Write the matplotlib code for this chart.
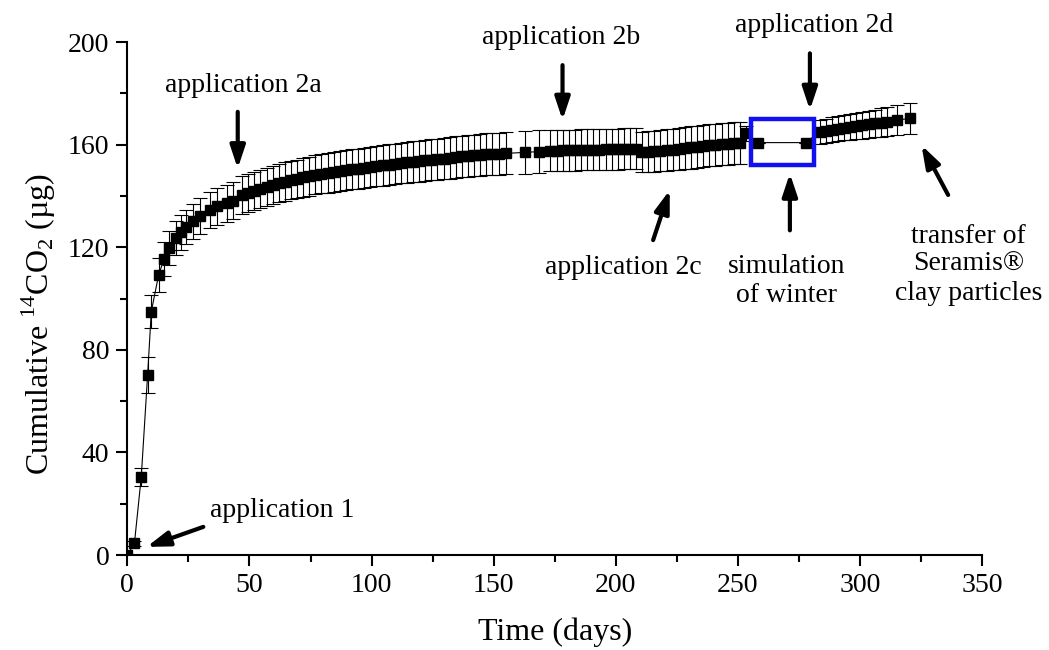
import numpy as np
import matplotlib.pyplot as plt
from matplotlib.patches import Rectangle

# sampling days and cumulative 14CO2 (ug) with standard deviation
days = [0, 2.9, 5.7, 8.3, 9.8, 12.8, 15.0, 16.9, 19.9, 21.9, 23.9, 26.9, 29.9, 33.7, 36.6, 40.7, 43.3, 47.0,
        49.5, 52.0, 54.5, 57.0, 59.5, 62.0, 64.5, 67.0, 69.5, 72.0, 74.5, 77.0, 79.5, 82.0, 84.5, 87.0,
        89.5, 92.0, 94.5, 97.0, 99.5, 102.0, 104.5, 107.0, 109.5, 112.0, 114.5, 117.0, 119.5, 122.0,
        124.5, 127.0, 129.5, 132.0, 134.5, 137.0, 139.5, 142.0, 144.5, 147.0, 149.5, 152.0, 155.0,
        163.0, 168.6, 173.2, 175.8, 178.3, 180.8, 183.3, 185.8, 188.3, 190.8, 193.3, 195.8, 198.3,
        200.8, 203.3, 205.8, 208.3, 210.8, 213.3, 215.8, 218.3, 220.8, 223.3, 225.8, 228.3, 230.8,
        233.3, 235.8, 238.3, 240.8, 243.3, 245.8, 248.3, 250.8, 253.5,
        258.4, 277.7,
        283.6, 286.0, 288.5, 291.0, 293.5, 296.0, 298.5, 301.0, 303.5, 306.0, 308.5, 311.0, 315.0, 320.5]

co2_cum = [0, 4.6, 30.5, 70.2, 94.9, 109.2, 115.4, 119.7, 123.7, 125.8, 127.9, 130.1, 132.3, 134.5, 135.9, 137.1, 138.2, 140.4,
           141.2, 142.0, 142.8, 143.6, 144.3, 145.0, 145.6, 146.2, 146.7, 147.2, 147.7, 148.2, 148.6, 149.0, 149.4, 149.8,
           150.1, 150.4, 150.7, 151.0, 151.3, 151.6, 151.9, 152.2, 152.5, 152.8, 153.1, 153.4, 153.6, 153.9,
           154.1, 154.4, 154.6, 154.9, 155.1, 155.4, 155.6, 155.8, 156.0, 156.2, 156.3, 156.5, 156.6,
           157.0, 157.3, 157.6, 157.7, 157.8, 157.9, 157.9, 158.0, 158.0, 158.1, 158.1, 158.2, 158.2,
           158.3, 158.4, 158.4, 158.5, 157.2, 157.3, 157.5, 157.7, 157.9, 158.1, 158.3, 158.6, 158.9,
           159.2, 159.4, 159.7, 159.9, 160.1, 160.3, 160.5, 160.8, 164.4,
           160.8, 160.8,
           165.0, 165.4, 165.8, 166.2, 166.6, 167.0, 167.3, 167.6, 168.0, 168.3, 168.6, 169.0, 169.6, 170.2]

co2_sd = [0, 1.0, 3.6, 7.0, 6.5, 6.6, 6.5, 6.5, 6.6, 6.7, 6.8, 6.9, 7.0, 7.0, 7.1, 7.2, 7.2, 7.3,
          7.3, 7.3, 7.4, 7.4, 7.4, 7.5, 7.5, 7.5, 7.5, 7.6, 7.6, 7.6, 7.6, 7.7, 7.7, 7.7,
          7.7, 7.8, 7.8, 7.8, 7.8, 7.8, 7.9, 7.9, 7.9, 7.9, 7.9, 8.0, 8.0, 8.0,
          8.0, 8.0, 8.0, 8.1, 8.1, 8.1, 8.1, 8.1, 8.1, 8.2, 8.2, 8.2, 8.2,
          8.3, 8.3, 8.0, 8.0, 8.0, 8.0, 8.0, 8.0, 8.0, 8.0, 8.0, 8.0, 8.0,
          8.0, 8.0, 8.0, 8.0, 7.8, 7.9, 8.0, 8.0, 8.1, 8.1, 8.1, 8.2, 8.2,
          8.2, 8.2, 8.2, 8.2, 8.2, 8.2, 8.2, 8.2, 3.0,
          0, 0,
          4.6, 4.7, 4.8, 4.8, 4.9, 5.0, 5.1, 5.2, 5.3, 5.4, 5.5, 5.6, 5.8, 6.2]

# event labels: text, text position (x, baseline of last line), arrow tail, arrow head
event_text = ["application 1", "application 2a", "application 2b", "application 2c",
              "application 2d", "simulation\nof winter", "transfer of\nSeramis®\nclay particles"]
event_text_xy = [(63.6, 14.8), (47.6, 180.6), (177.7, 199.3), (203.2, 109.6),
                 (281.2, 204.0), (270.0, 98.8), (344.5, 99.4)]
event_tail = [(31.1, 11.0), (45.2, 172.8), (178.2, 191.0), (215.3, 122.8),
              (279.5, 195.6), (271.3, 126.6), (336.1, 140.4)]
event_head = [(7.9, 3.2), (45.2, 150.7), (178.2, 169.6), (222.1, 142.3),
              (279.5, 173.5), (271.3, 148.8), (325.2, 159.8)]

# winter period box (x0, y0, width, height)
winter_box = (255.2, 152.0, 25.9, 17.9)

plt.rcParams['font.family'] = 'Liberation Serif'
plt.rcParams['mathtext.fontset'] = 'custom'
plt.rcParams['mathtext.rm'] = 'Liberation Serif'

fig = plt.figure(figsize=(10.49, 6.5), dpi=100)
ax = fig.add_axes([0.1214, 0.146, 0.8148, 0.7893])

ax.errorbar(days, co2_cum, yerr=co2_sd, fmt='s-', color='black', ms=7, lw=0.8,
            elinewidth=0.8, capsize=5, capthick=0.8, ecolor='black')

ax.add_patch(Rectangle(winter_box[:2], winter_box[2], winter_box[3], fill=False,
                       edgecolor='#1010f0', lw=3.2, zorder=5))

for txt, txy, tail, head in zip(event_text, event_text_xy, event_tail, event_head):
    ax.annotate('', xy=head, xytext=tail, annotation_clip=False,
                arrowprops=dict(arrowstyle='-|>,head_length=0.9,head_width=0.3',
                                mutation_scale=15, lw=3, color='black',
                                shrinkA=0, shrinkB=0))
    ax.text(txy[0], txy[1], txt, ha='center', va='baseline', fontsize=20,
            linespacing=1.2, clip_on=False)

ax.set_xlim(0, 350)
ax.set_ylim(0, 200)
ax.set_xticks(np.arange(0, 351, 50))
ax.set_xticks(np.arange(25, 350, 50), minor=True)
ax.set_yticks(np.arange(0, 201, 40))
ax.set_yticks(np.arange(20, 200, 40), minor=True)

for side in ['top', 'right']:
    ax.spines[side].set_visible(False)
for side in ['left', 'bottom']:
    ax.spines[side].set_linewidth(1.5)

ax.tick_params(which='major', direction='out', length=8, width=1.5, labelsize=20, pad=5)
ax.tick_params(which='minor', direction='out', length=5, width=1.5)

ax.set_xlabel('Time (days)', fontsize=23, labelpad=14)
ax.set_ylabel(r'Cumulative $^{\mathrm{14}}$CO$_{\mathrm{2}}$ (µg)', fontsize=23)
ax.yaxis.set_label_coords(-0.081, 0.45)

fig.savefig('out.png', dpi=100)
